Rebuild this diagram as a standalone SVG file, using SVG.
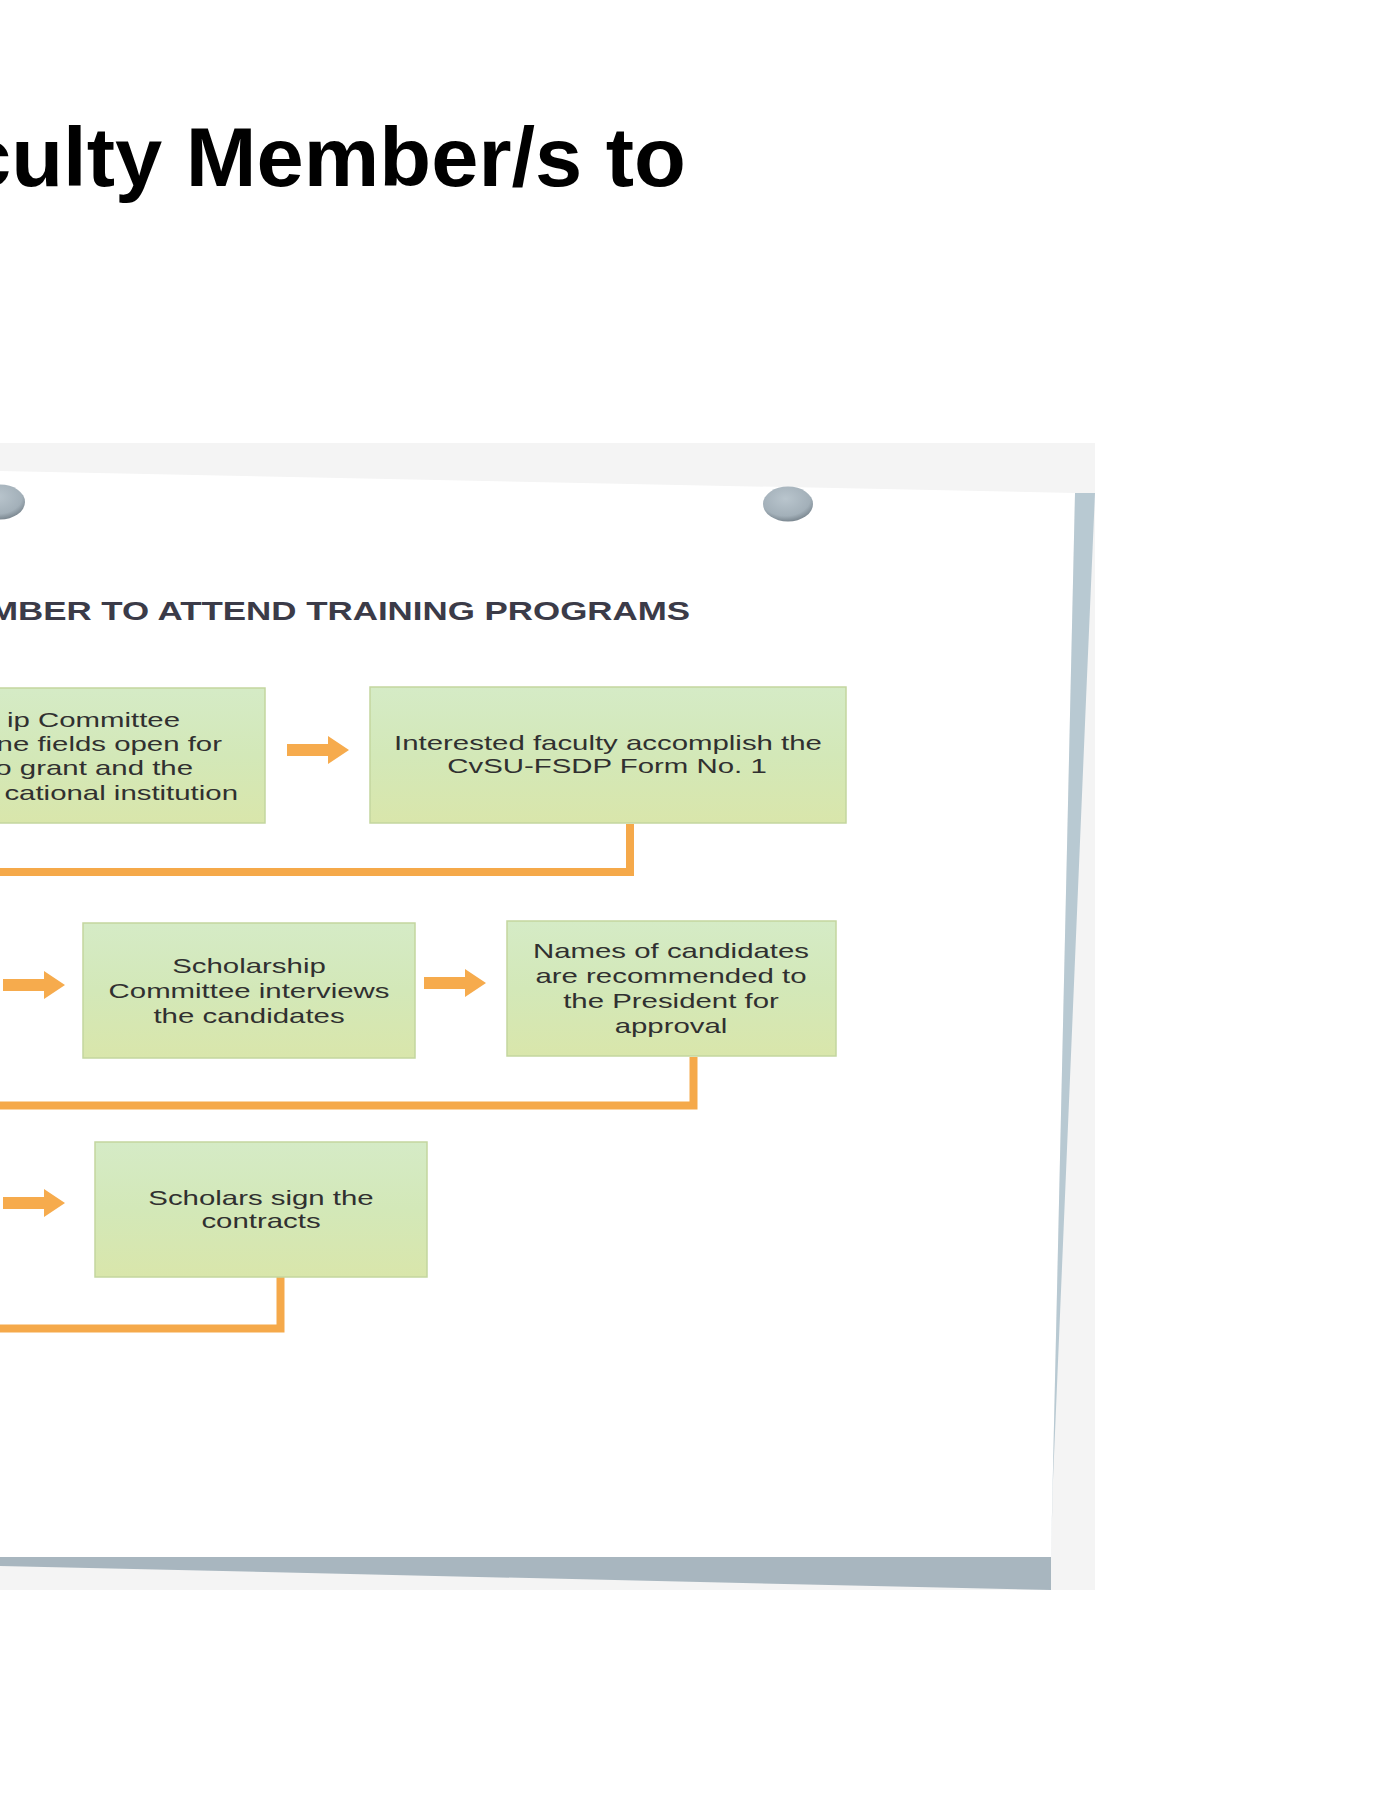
<svg xmlns="http://www.w3.org/2000/svg" width="1390" height="1800" viewBox="0 0 1390 1800">
  <style>
    .title { font-family: "Liberation Sans", Arial, sans-serif; font-weight: bold; font-size: 84px; fill: #000; }
    .hdr { font-family: "Liberation Sans", Arial, sans-serif; font-weight: bold; font-size: 25.3px; fill: #3b3b48; }
    .bt { font-family: "Liberation Sans", Arial, sans-serif; font-size: 21px; fill: #303030; text-anchor: middle; }
    .bt.end { text-anchor: end; }
    .box { fill: url(#boxfill); stroke: #c3d69f; stroke-width: 1.5; }
    .conn { fill: none; stroke: #f5a94a; stroke-width: 8; stroke-linejoin: miter; stroke-linecap: butt; }
    .arrow { fill: #f6ab4d; }
  </style>
  <defs>
    <linearGradient id="boxfill" x1="0" y1="0" x2="0" y2="1">
      <stop offset="0" stop-color="#d5ebc6"/>
      <stop offset="0.5" stop-color="#d3e8b8"/>
      <stop offset="1" stop-color="#d9e6ab"/>
    </linearGradient>
    <radialGradient id="pin" cx="0.45" cy="0.35" r="0.7">
      <stop offset="0" stop-color="#b9c5cd"/>
      <stop offset="0.7" stop-color="#a3b0b9"/>
      <stop offset="1" stop-color="#6f7b84"/>
    </radialGradient>
    <path id="arr" d="M0,-6 H41 V-14 L62,0 L41,14 V6 H0 Z"/>
  </defs>

  <rect width="1390" height="1800" fill="#ffffff"/>

  <g id="title">
    <text class="title" x="-36" y="186" textLength="722" lengthAdjust="spacingAndGlyphs">culty Member/s to</text>
  </g>

  <g id="paper">
    <rect x="0" y="443" width="1095" height="1147" fill="#f4f4f4"/>
    <polygon points="0,471 1075,493 1051,1557 0,1557" fill="#ffffff"/>
    <polygon points="1075,493 1095,493 1086,700 1053,1480 1051,1557" fill="#b8c9d2"/>
    <polygon points="0,1557 1051,1557 1051,1590 0,1566" fill="#a8b6bf"/>
    <ellipse cx="0" cy="502" rx="25" ry="17.5" fill="url(#pin)"/>
    <ellipse cx="788" cy="504" rx="25" ry="17.5" fill="url(#pin)"/>
  </g>

  <g id="header">
    <text class="hdr" text-anchor="end" transform="translate(690,620) scale(1.38,1)">MBER TO ATTEND TRAINING PROGRAMS</text>
  </g>

  <g id="connectors">
    <path class="conn" d="M630,824 V872 H-5"/>
    <path class="conn" d="M693.5,1057 V1105.5 H-5"/>
    <path class="conn" d="M280.5,1277 V1328.5 H-5"/>
    <use href="#arr" class="arrow" transform="translate(287,750)"/>
    <use href="#arr" class="arrow" transform="translate(3,985)"/>
    <use href="#arr" class="arrow" transform="translate(424,983)"/>
    <use href="#arr" class="arrow" transform="translate(3,1203)"/>
  </g>

  <g id="node-a">
    <rect class="box" x="-5" y="688" width="270" height="135"/>
    <text class="bt end" transform="translate(180,727) scale(1.4,1)">ip Committee</text>
    <text class="bt end" transform="translate(222,751) scale(1.4,1)">ne fields open for</text>
    <text class="bt end" transform="translate(193,775) scale(1.4,1)">o grant and the</text>
    <text class="bt end" transform="translate(238,800) scale(1.4,1)">cational institution</text>
  </g>

  <g id="node-b">
    <rect class="box" x="370" y="687" width="476" height="136"/>
    <text class="bt" transform="translate(608,750) scale(1.4,1)">Interested faculty accomplish the</text>
    <text class="bt" transform="translate(607,773) scale(1.4,1)">CvSU-FSDP Form No. 1</text>
  </g>

  <g id="node-c">
    <rect class="box" x="83" y="923" width="332" height="135"/>
    <text class="bt" transform="translate(249,973) scale(1.4,1)">Scholarship</text>
    <text class="bt" transform="translate(249,998) scale(1.4,1)">Committee interviews</text>
    <text class="bt" transform="translate(249,1023) scale(1.4,1)">the candidates</text>
  </g>

  <g id="node-d">
    <rect class="box" x="507" y="921" width="329" height="135"/>
    <text class="bt" transform="translate(671,958) scale(1.4,1)">Names of candidates</text>
    <text class="bt" transform="translate(671,983) scale(1.4,1)">are recommended to</text>
    <text class="bt" transform="translate(671,1008) scale(1.4,1)">the President for</text>
    <text class="bt" transform="translate(671,1033) scale(1.4,1)">approval</text>
  </g>

  <g id="node-e">
    <rect class="box" x="95" y="1142" width="332" height="135"/>
    <text class="bt" transform="translate(261,1205) scale(1.4,1)">Scholars sign the</text>
    <text class="bt" transform="translate(261,1228) scale(1.4,1)">contracts</text>
  </g>
</svg>
